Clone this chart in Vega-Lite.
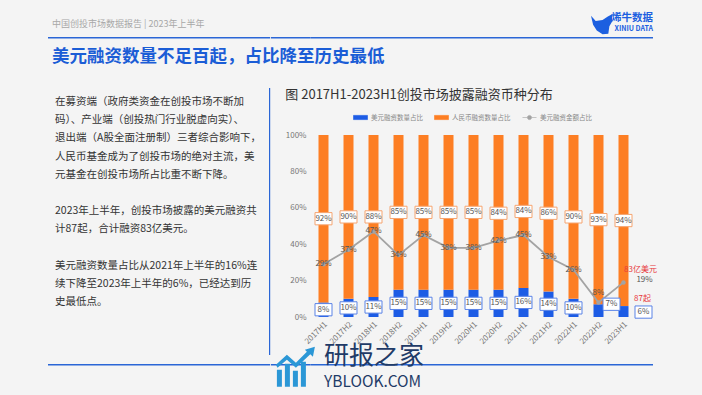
{
 "$schema": "https://vega.github.io/schema/vega-lite/v6.json",
 "background": "#f4f4f4",
 "padding": {"left": 48, "top": 0, "right": 50, "bottom": 31},
 "bounds": "flush",
 "spacing": 0,
 "columns": 5,
 "config": {
  "view": {"stroke": null},
  "font": "Noto Sans CJK SC",
  "title": {"font": "Noto Sans CJK SC", "subtitleFont": "Noto Sans CJK SC"},
  "axis": {"labelFont": "Noto Sans CJK SC"},
  "axisY": {"labelOverlap": false, "tickCount": 10, "labelFontSize": 8, "labelColor": "#777777", "domain": false, "ticks": false, "grid": false, "labelPadding": 5},
  "legend": {"labelFont": "Noto Sans CJK SC"},
  "text": {"font": "Noto Sans CJK SC"}
 },
 "concat": [
  {"width": 221, "height": 36.5, "data": {"values": []}, "mark": "point",
   "title": {"text": "中国创投市场数据报告 | 2023年上半年", "anchor": "start", "orient": "top", "offset": 0, "baseline": "middle", "dy": 33, "dx": 4, "fontSize": 9, "fontWeight": "normal", "color": "#a8a8a8"}},
  {"width": 1.2, "height": 36.5, "data": {"values": []}, "mark": "point"},
  {"width": 39.8, "height": 36.5, "data": {"values": []}, "mark": "point"},
  {"width": 325, "height": 36.5, "data": {"values": [{}]},
   "mark": {"type": "point", "shape": "M-1,-0.8L-0.55,-0.3L0.1,-0.4L0.6,-0.75L1,-0.95L1,-0.25L0.75,0.2L0.65,0.9L0.1,0.95L-0.45,0.6L-0.8,0.05Z", "size": 441, "filled": true, "color": "#1c5fe0", "opacity": 1, "xOffset": 128, "yOffset": 6},
   "title": {"text": "烯牛数据", "subtitle": "XINIU DATA", "anchor": "end", "orient": "top", "offset": 0, "baseline": "top", "dy": 32, "dx": 17, "fontSize": 10.5, "fontWeight": "bold", "color": "#1c5fe0", "subtitleFontSize": 7, "subtitleFontWeight": "bold", "subtitleColor": "#1c5fe0", "subtitlePadding": 1.5}},
  {"width": 17, "height": 36.5, "data": {"values": []}, "mark": "point"},

  {"width": 221, "height": 1.5, "view": {"fill": "#2a66d6"}, "data": {"values": []}, "mark": "point"},
  {"width": 1.2, "height": 1.5, "view": {"fill": "#2a66d6"}, "data": {"values": []}, "mark": "point"},
  {"width": 39.8, "height": 1.5, "view": {"fill": "#2a66d6"}, "data": {"values": []}, "mark": "point"},
  {"width": 325, "height": 1.5, "view": {"fill": "#2a66d6"}, "data": {"values": []}, "mark": "point"},
  {"width": 17, "height": 1.5, "view": {"fill": "#2a66d6"}, "data": {"values": []}, "mark": "point"},

  {"width": 221, "height": 49, "data": {"values": []}, "mark": "point",
   "title": {"text": "美元融资数量不足百起，占比降至历史最低", "anchor": "start", "orient": "top", "offset": 0, "baseline": "middle", "dy": 35, "dx": 4, "fontSize": 17.5, "fontWeight": "bold", "color": "#1b5dd6"}},
  {"width": 1.2, "height": 49, "data": {"values": []}, "mark": "point"},
  {"width": 39.8, "height": 49, "data": {"values": []}, "mark": "point"},
  {"width": 325, "height": 49, "data": {"values": []}, "mark": "point"},
  {"width": 17, "height": 49, "data": {"values": []}, "mark": "point"},

  {"width": 221, "height": 47, "data": {"values": []}, "mark": "point"},
  {"width": 1.2, "height": 47, "view": {"fill": "#2a66d6"}, "data": {"values": []}, "mark": "point"},
  {"width": 39.8, "height": 47, "data": {"values": []}, "mark": "point"},
  {"width": 325, "height": 47, "data": {"values": []}, "mark": "point"},
  {"width": 17, "height": 47, "data": {"values": []}, "mark": "point"},

  {
   "width": 221, "height": 182,
   "data": {"values": [
    {"i": 0, "t": "在募资端（政府类资金在创投市场不断加"},
    {"i": 1, "t": "码）、产业端（创投热门行业脱虚向实）、"},
    {"i": 2, "t": "退出端（A股全面注册制）三者综合影响下，"},
    {"i": 3, "t": "人民币基金成为了创投市场的绝对主流，美"},
    {"i": 4, "t": "元基金在创投市场所占比重不断下降。"},
    {"i": 6, "t": "2023年上半年，创投市场披露的美元融资共"},
    {"i": 7, "t": "计87起，合计融资83亿美元。"},
    {"i": 9, "t": "美元融资数量占比从2021年上半年的16%连"},
    {"i": 10, "t": "续下降至2023年上半年的6%，已经达到历"},
    {"i": 11, "t": "史最低点。"}
   ]},
   "mark": {"type": "text", "align": "left", "baseline": "middle", "fontSize": 10.5, "color": "#333333", "dx": -103.5},
   "encoding": {
    "y": {"field": "i", "type": "quantitative", "scale": {"domain": [1.813, 11.813], "reverse": true, "nice": false, "zero": false}, "axis": null},
    "text": {"field": "t"}
   }
  },
  {"width": 1.2, "height": 182, "view": {"fill": "#2a66d6"}, "data": {"values": []}, "mark": "point"},
  {"width": 39.8, "height": 182, "data": {"values": []}, "mark": "point"},
  {
   "width": 325, "height": 182,
   "title": {"text": "图 2017H1-2023H1创投市场披露融资币种分布", "anchor": "start", "frame": "bounds", "orient": "top", "fontSize": 13, "fontWeight": "normal", "color": "#333333", "baseline": "bottom", "offset": 16},
   "data": {"values": [
    {"p": "2017H1", "usd": 0.08, "rmb": 0.92, "amt": 0.29},
    {"p": "2017H2", "usd": 0.10, "rmb": 0.90, "amt": 0.37},
    {"p": "2018H1", "usd": 0.11, "rmb": 0.88, "amt": 0.47},
    {"p": "2018H2", "usd": 0.15, "rmb": 0.85, "amt": 0.34},
    {"p": "2019H1", "usd": 0.15, "rmb": 0.85, "amt": 0.45},
    {"p": "2019H2", "usd": 0.15, "rmb": 0.85, "amt": 0.38},
    {"p": "2020H1", "usd": 0.15, "rmb": 0.85, "amt": 0.38},
    {"p": "2020H2", "usd": 0.15, "rmb": 0.84, "amt": 0.42},
    {"p": "2021H1", "usd": 0.16, "rmb": 0.84, "amt": 0.45},
    {"p": "2021H2", "usd": 0.14, "rmb": 0.86, "amt": 0.33},
    {"p": "2022H1", "usd": 0.10, "rmb": 0.90, "amt": 0.26},
    {"p": "2022H2", "usd": 0.07, "rmb": 0.93, "amt": 0.08},
    {"p": "2023H1", "usd": 0.06, "rmb": 0.94, "amt": 0.19}
   ]},
   "encoding": {
    "x": {"field": "p", "type": "nominal", "sort": null, "title": null,
          "scale": {"paddingInner": 0.6, "paddingOuter": 0.3},
          "axis": {"labelAngle": -45, "labelFontSize": 8, "labelColor": "#777777", "domain": false, "ticks": false, "labelPadding": 3}}
   },
   "layer": [
    {
     "mark": {"type": "bar"},
     "encoding": {
      "y": {"field": "usd", "type": "quantitative", "title": null,
            "scale": {"domain": [0, 1], "nice": false},
            "axis": {"format": ".0%", "values": [0, 0.1, 0.2, 0.3, 0.4, 0.5, 0.6, 0.7, 0.8, 0.9, 1], "tickCount": 10, "labelOverlap": false, "labelFontSize": 8, "labelColor": "#777777", "domain": false, "ticks": false, "grid": false, "labelPadding": 5}},
      "color": {"datum": "美元融资数量占比",
                "scale": {"domain": ["美元融资数量占比", "人民币融资数量占比", "美元融资金额占比"], "range": ["#1d5ce5", "#fd7e23", "#a3a3a3"]},
                "legend": {"orient": "none", "legendX": 305, "legendY": 110, "direction": "horizontal", "title": null, "labelFontSize": 6.5, "labelColor": "#888888", "symbolSize": 196, "columnPadding": 10, "labelOffset": 3, "padding": 0, "symbolStrokeWidth": 0.6,
                  "encode": {"symbols": {"update": {
                    "shape": [{"test": "datum.value === '美元融资金额占比'", "value": "M-1,0H-0.3M0.3,0H1M0.3,0A0.3,0.3,0,1,1,-0.3,0A0.3,0.3,0,1,1,0.3,0"}, {"value": "M-1,-0.3H1V0.3H-1Z"}],
                    "fill": [{"test": "datum.value === '美元融资数量占比'", "value": "#1d5ce5"}, {"test": "datum.value === '人民币融资数量占比'", "value": "#fd7e23"}, {"value": "#a3a3a3"}],
                    "stroke": [{"test": "datum.value === '美元融资数量占比'", "value": "#1d5ce5"}, {"test": "datum.value === '人民币融资数量占比'", "value": "#fd7e23"}, {"value": "#a3a3a3"}],
                    "opacity": {"value": 1}
                  }}}}}
     }
    },
    {
     "mark": {"type": "bar"},
     "encoding": {
      "y": {"field": "usd", "type": "quantitative", "title": null},
      "y2": {"datum": 1},
      "color": {"datum": "人民币融资数量占比"}
     }
    },
    {
     "mark": {"type": "line", "strokeWidth": 1.8, "point": {"filled": true, "size": 20, "opacity": 1}},
     "encoding": {
      "y": {"field": "amt", "type": "quantitative", "title": null},
      "color": {"datum": "美元融资金额占比"}
     }
    },
    {
     "transform": [{"fold": ["usd", "rmb"], "as": ["key", "value"]}],
     "mark": {"type": "point", "shape": "M-1,-0.72H1V0.72H-1Z", "size": 289, "filled": true, "fill": "white", "strokeWidth": 1},
     "encoding": {
      "y": {"field": "value", "type": "quantitative", "title": null, "stack": "zero", "bandPosition": 0.5},
      "detail": {"field": "key"},
      "order": {"field": "key", "sort": "descending"},
      "stroke": {"field": "key", "type": "nominal", "scale": {"domain": ["usd", "rmb"], "range": ["#5b83e6", "#f5a470"]}, "legend": null},
      "opacity": {"condition": {"test": "datum.key === 'usd' && (datum.p === '2022H2' || datum.p === '2023H1')", "value": 0}, "value": 1}
     }
    },
    {
     "transform": [{"fold": ["usd", "rmb"], "as": ["key", "value"]}],
     "mark": {"type": "text", "fontSize": 8, "color": "#555555"},
     "encoding": {
      "y": {"field": "value", "type": "quantitative", "title": null, "stack": "zero", "bandPosition": 0.5},
      "detail": {"field": "key"},
      "order": {"field": "key", "sort": "descending"},
      "text": {"field": "value", "type": "quantitative", "format": ".0%"},
      "opacity": {"condition": {"test": "datum.key === 'usd' && (datum.p === '2022H2' || datum.p === '2023H1')", "value": 0}, "value": 1}
     }
    },
    {
     "transform": [{"filter": "datum.p === '2022H2'"}],
     "mark": {"type": "point", "shape": "M-1,-0.72H1V0.72H-1Z", "size": 289, "filled": true, "fill": "white", "stroke": "#5b83e6", "strokeWidth": 1, "opacity": 1, "xOffset": 13},
     "encoding": {"y": {"field": "usd", "type": "quantitative", "title": null}}
    },
    {
     "transform": [{"filter": "datum.p === '2022H2'"}],
     "mark": {"type": "text", "fontSize": 8, "color": "#555555", "xOffset": 13},
     "encoding": {"y": {"field": "usd", "type": "quantitative", "title": null}, "text": {"field": "usd", "type": "quantitative", "format": ".0%"}}
    },
    {
     "transform": [{"filter": "datum.p === '2023H1'"}],
     "mark": {"type": "point", "shape": "M-1,-0.72H1V0.72H-1Z", "size": 289, "filled": true, "fill": "white", "stroke": "#5b83e6", "strokeWidth": 1, "opacity": 1, "xOffset": 20, "yOffset": 6},
     "encoding": {"y": {"field": "usd", "type": "quantitative", "title": null}}
    },
    {
     "transform": [{"filter": "datum.p === '2023H1'"}],
     "mark": {"type": "text", "fontSize": 8, "color": "#555555", "xOffset": 20, "yOffset": 6},
     "encoding": {"y": {"field": "usd", "type": "quantitative", "title": null}, "text": {"field": "usd", "type": "quantitative", "format": ".0%"}}
    },
    {
     "transform": [{"filter": "datum.p !== '2022H2' && datum.p !== '2023H1'"}],
     "mark": {"type": "text", "fontSize": 8, "color": "#555555"},
     "encoding": {"y": {"field": "amt", "type": "quantitative", "title": null}, "text": {"field": "amt", "type": "quantitative", "format": ".0%"}}
    },
    {
     "transform": [{"filter": "datum.p === '2022H2'"}],
     "mark": {"type": "text", "fontSize": 8, "color": "#555555", "dy": -9},
     "encoding": {"y": {"field": "amt", "type": "quantitative", "title": null}, "text": {"field": "amt", "type": "quantitative", "format": ".0%"}}
    },
    {
     "transform": [{"filter": "datum.p === '2023H1'"}],
     "mark": {"type": "text", "fontSize": 8, "color": "#555555", "xOffset": 21, "dy": -2},
     "encoding": {"y": {"field": "amt", "type": "quantitative", "title": null}, "text": {"field": "amt", "type": "quantitative", "format": ".0%"}}
    },
    {
     "data": {"values": [{"p": "2023H1", "v": 0.19, "note": "83亿美元"}]},
     "mark": {"type": "text", "fontSize": 8, "color": "#e8383d", "xOffset": 17, "dy": -12},
     "encoding": {"y": {"field": "v", "type": "quantitative", "title": null}, "text": {"field": "note"}}
    },
    {
     "data": {"values": [{"p": "2023H1", "v": 0.06, "note": "87起"}]},
     "mark": {"type": "text", "fontSize": 8, "color": "#e8383d", "xOffset": 19, "dy": -7},
     "encoding": {"y": {"field": "v", "type": "quantitative", "title": null}, "text": {"field": "note"}}
    }
   ]
  },
  {"width": 17, "height": 182, "data": {"values": []}, "mark": "point"},

  {"width": 221, "height": 38, "data": {"values": []}, "mark": "point"},
  {"width": 1.2, "height": 38, "view": {"fill": "#2a66d6"}, "data": {"values": []}, "mark": "point"},
  {"width": 39.8, "height": 38, "data": {"values": []}, "mark": "point"},
  {"width": 325, "height": 38, "data": {"values": []}, "mark": "point"},
  {"width": 17, "height": 38, "data": {"values": []}, "mark": "point"},

  {"width": 221, "height": 9, "data": {"values": []}, "mark": "point"},
  {"width": 1.2, "height": 9, "data": {"values": []}, "mark": "point"},
  {"width": 39.8, "height": 9, "data": {"values": []}, "mark": "point"},
  {"width": 325, "height": 9, "data": {"values": []}, "mark": "point"},
  {"width": 17, "height": 9, "data": {"values": []}, "mark": "point"},

  {"width": 221, "height": 1.5, "view": {"fill": "#2a66d6"}, "data": {"values": []}, "mark": "point"},
  {"width": 1.2, "height": 1.5, "view": {"fill": "#2a66d6"}, "data": {"values": []}, "mark": "point"},
  {"width": 39.8, "height": 1.5, "view": {"fill": "#2a66d6"}, "data": {"values": [{}]},
   "mark": {"type": "point", "shape": "M-0.95,0.15H-0.7V1H-0.95Z M-0.55,-0.15H-0.3V1H-0.55Z M-0.15,0.2H0.1V1H-0.15Z M0.25,-0.25H0.5V1H0.25Z M-1,-0.1L-0.45,-0.6L0,-0.2L0.55,-0.75L0.45,-0.85L0.95,-1L0.85,-0.5L0.72,-0.62L0,0.05L-0.45,-0.35L-0.92,0.05Z", "size": 1600, "filled": true, "color": "#2b97d6", "opacity": 1, "xOffset": 5, "yOffset": 2}},
  {"width": 325, "height": 1.5, "view": {"fill": "#2a66d6"}, "data": {"values": []}, "mark": "point",
   "title": {"text": "研报之家", "subtitle": "YBLOOK.COM", "orient": "bottom", "anchor": "start", "dx": 13, "dy": -22, "offset": 0, "baseline": "top", "fontSize": 25, "fontWeight": "normal", "color": "#1f3b67", "subtitleFontSize": 15.5, "subtitleColor": "#1f3b67", "subtitlePadding": 6}},
  {"width": 17, "height": 1.5, "view": {"fill": "#2a66d6"}, "data": {"values": []}, "mark": "point"}
 ]
}
